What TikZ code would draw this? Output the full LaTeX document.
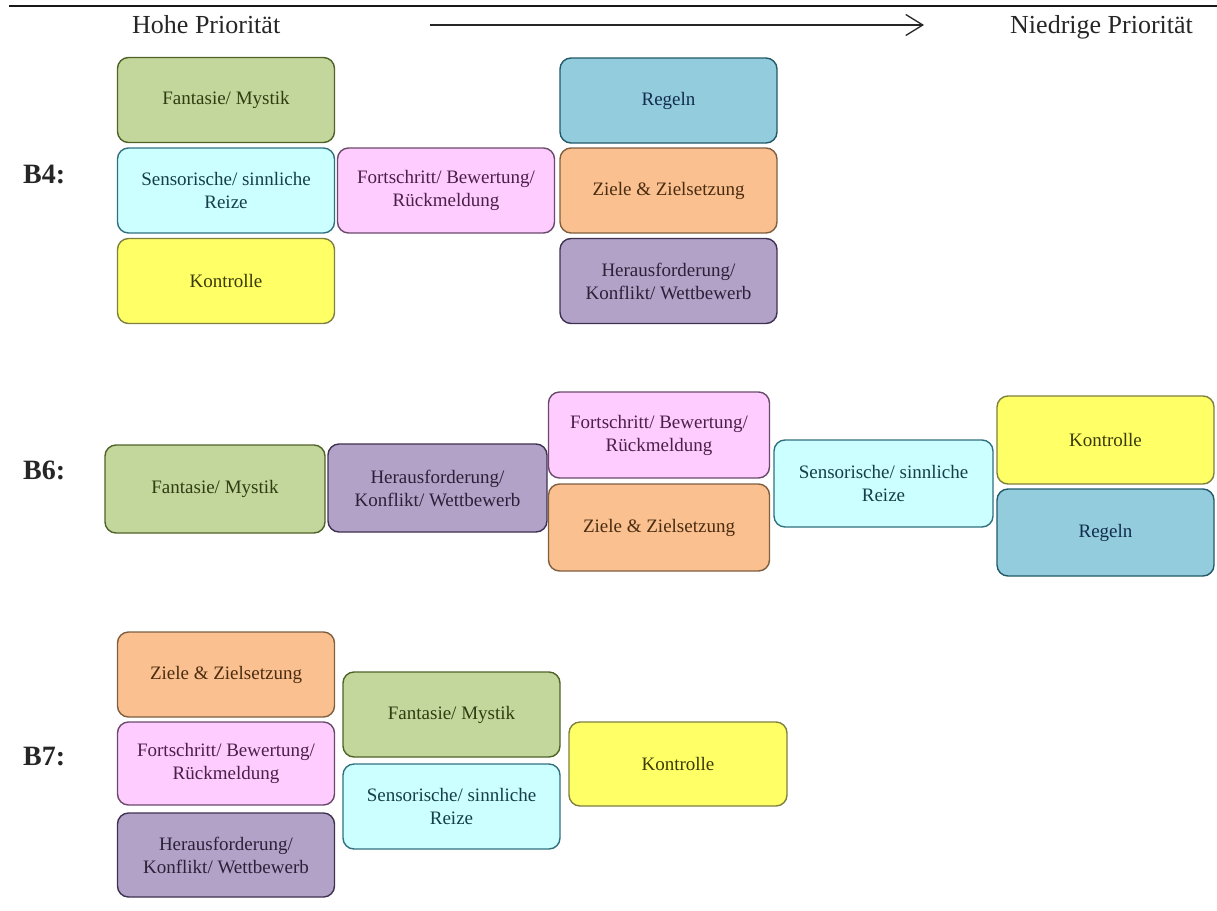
\documentclass[tikz,border=0pt]{standalone}
\usepackage{fontspec}
\setmainfont{Liberation Serif}
\usetikzlibrary{arrows.meta}

% fill / frame / text colours of the seven categories
\definecolor{fantF}{HTML}{C3D69B}\definecolor{fantD}{HTML}{4F6228}\definecolor{fantT}{HTML}{2F3D12}
\definecolor{sensF}{HTML}{CCFFFF}\definecolor{sensD}{HTML}{31707F}\definecolor{sensT}{HTML}{163E48}
\definecolor{kontF}{HTML}{FFFF66}\definecolor{kontD}{HTML}{7F7F40}\definecolor{kontT}{HTML}{3A3A08}
\definecolor{fortF}{HTML}{FFCCFF}\definecolor{fortD}{HTML}{6A4A6A}\definecolor{fortT}{HTML}{4A2048}
\definecolor{regF}{HTML}{93CDDD}\definecolor{regD}{HTML}{215968}\definecolor{regT}{HTML}{112C4C}
\definecolor{zielF}{HTML}{FAC090}\definecolor{zielD}{HTML}{7F5F3F}\definecolor{zielT}{HTML}{4A2C10}
\definecolor{herF}{HTML}{B3A2C7}\definecolor{herD}{HTML}{3F3151}\definecolor{herT}{HTML}{2C2038}

\begin{document}
\begin{tikzpicture}[x=1pt,y=-1pt,
  card/.style={draw, rounded corners=11pt, line width=1.4pt,
    minimum width=217pt, minimum height=85pt, inner sep=0pt,
    align=center, font=\fontsize{19}{23}\selectfont},
  fant/.style={card, fill=fantF, draw=fantD, text=fantT},
  sens/.style={card, fill=sensF, draw=sensD, text=sensT},
  kont/.style={card, fill=kontF, draw=kontD, text=kontT},
  fort/.style={card, fill=fortF, draw=fortD, text=fortT},
  regl/.style={card, fill=regF, draw=regD, text=regT},
  ziel/.style={card, fill=zielF, draw=zielD, text=zielT},
  hera/.style={card, fill=herF, draw=herD, text=herT},
  head/.style={anchor=base west, inner sep=0pt, font=\fontsize{26}{30}\selectfont, text=black!85},
  rowlabel/.style={anchor=base west, inner sep=0pt, font=\fontsize{28}{32}\selectfont\bfseries, text=black!85}
]
\useasboundingbox (0,0) rectangle (1217,910);

% header: rule, priority captions and direction arrow
\coordinate (ruleL) at (9,6);
\coordinate (ruleR) at (1217,6);
\draw[line width=2.6pt, black!90] (ruleL) -- (ruleR);
\node[head] (hoch) at (132,33) {Hohe Priorität};
\node[head] (tief) at (1010,33) {Niedrige Priorität};
\coordinate (arrS) at (430,25);
\coordinate (arrE) at (924,25);
\draw[line width=1.3pt, black!85, -{Straight Barb[length=17pt,width=21pt,line width=1.3pt]}] (arrS) -- (arrE);

% row labels
\node[rowlabel] (lb4) at (23,183) {B4:};
\node[rowlabel] (lb6) at (23,479) {B6:};
\node[rowlabel] (lb7) at (23,765) {B7:};

% B4
\node[fant] (f4) at (226,100)   {Fantasie/ Mystik};
\node[sens] (s4) at (226,190.5) {Sensorische/ sinnliche\\Reize};
\node[kont] (k4) at (226,281)   {Kontrolle};
\node[fort] (p4) at (446,190.5) {Fortschritt/ Bewertung/\\Rückmeldung};
\node[regl] (r4) at (668.5,100.5) {Regeln};
\node[ziel] (z4) at (668.5,190.5) {Ziele \& Zielsetzung};
\node[hera] (h4) at (668.5,281) {Herausforderung/\\Konflikt/ Wettbewerb};

% B6
\node[fant, minimum width=220pt, minimum height=88pt] (f6) at (215,489) {Fantasie/ Mystik};
\node[hera, minimum width=219pt, minimum height=88pt] (h6) at (437.5,488) {Herausforderung/\\Konflikt/ Wettbewerb};
\node[fort, minimum width=221pt, minimum height=86pt] (p6) at (659,435) {Fortschritt/ Bewertung/\\Rückmeldung};
\node[ziel, minimum width=221pt, minimum height=87pt] (z6) at (659,527.5) {Ziele \& Zielsetzung};
\node[sens, minimum width=219pt, minimum height=87pt] (s6) at (883.5,483.5) {Sensorische/ sinnliche\\Reize};
\node[kont, minimum width=217pt, minimum height=88pt] (k6) at (1105.5,440) {Kontrolle};
\node[regl, minimum width=217pt, minimum height=87pt] (r6) at (1105.5,532.5) {Regeln};

% B7
\node[ziel] (z7) at (226,674.5) {Ziele \& Zielsetzung};
\node[fort, minimum height=83pt] (p7) at (226,763.5) {Fortschritt/ Bewertung/\\Rückmeldung};
\node[hera, minimum height=84pt] (h7) at (226,855) {Herausforderung/\\Konflikt/ Wettbewerb};
\node[fant] (f7) at (451.5,714.5) {Fantasie/ Mystik};
\node[sens] (s7) at (451.5,806.5) {Sensorische/ sinnliche\\Reize};
\node[kont, minimum width=218pt, minimum height=84pt] (k7) at (678,764) {Kontrolle};
\end{tikzpicture}
\end{document}
